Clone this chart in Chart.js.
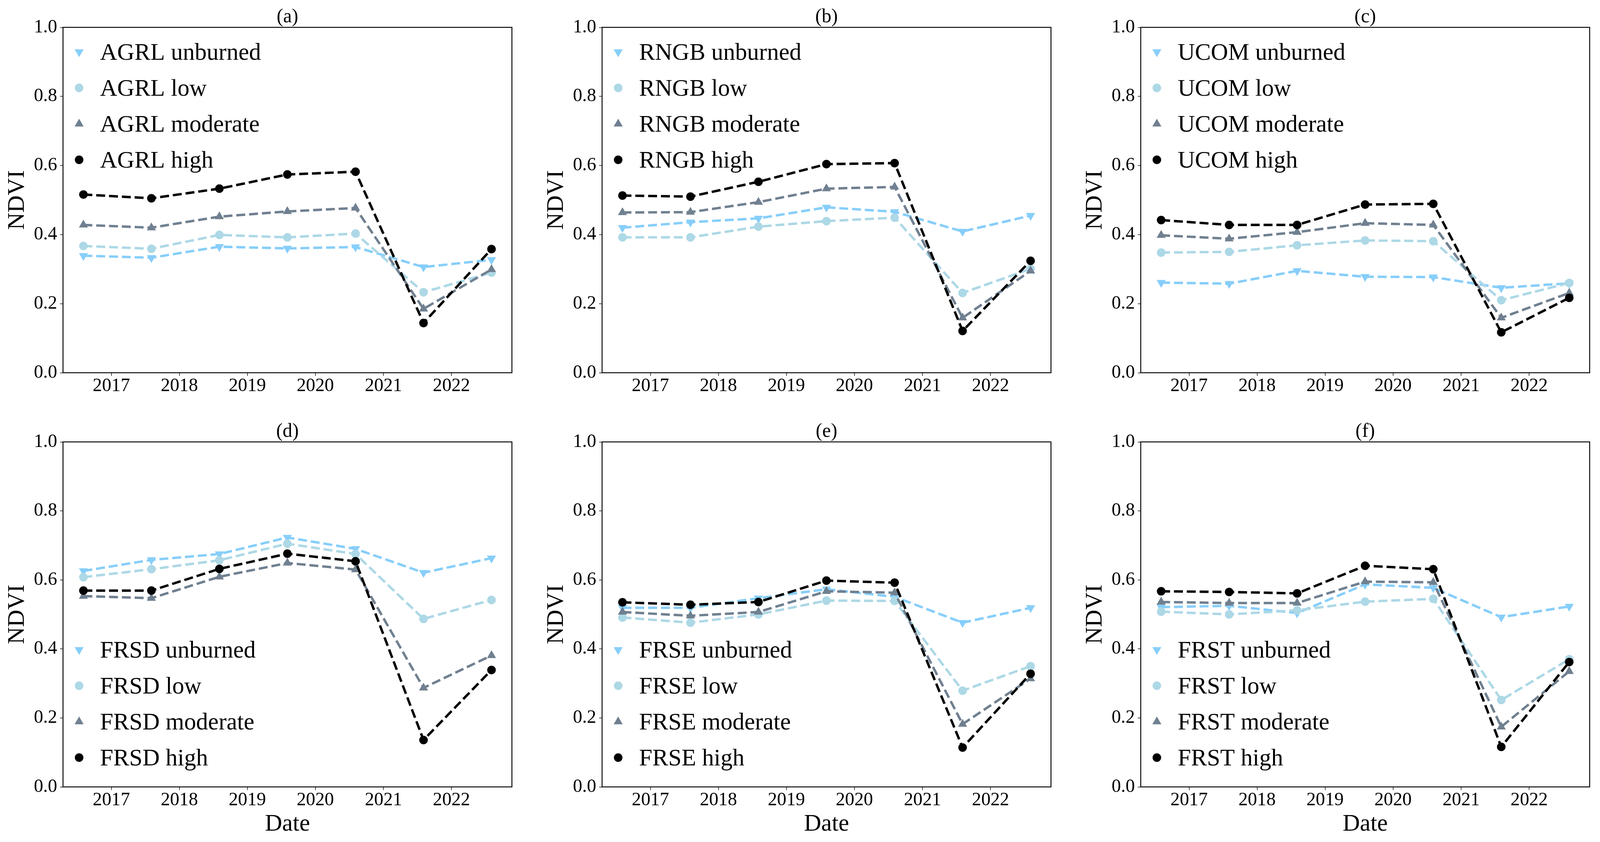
<!DOCTYPE html>
<html>
<head>
<meta charset="utf-8">
<script src="https://cdn.jsdelivr.net/npm/chart.js@4.4.1/dist/chart.umd.min.js"></script>
<style>
  html, body { margin: 0; padding: 0; background: #ffffff; overflow: hidden; }
  .panel { position: absolute; }
</style>
</head>
<body>
<div id="root"></div>
<script>
// ---------------- DATA ----------------
const dates = ['2016-08-04', '2017-08-04', '2018-08-04', '2019-08-04', '2020-08-04', '2021-08-04', '2022-08-04'];
const yearTicks = [2017, 2018, 2019, 2020, 2021, 2022];
const yTicks = [0.0, 0.2, 0.4, 0.6, 0.8, 1.0];
const panelLabels = ['(a)', '(b)', '(c)', '(d)', '(e)', '(f)'];
const landCovers = ['AGRL', 'RNGB', 'UCOM', 'FRSD', 'FRSE', 'FRST'];
const severities = ['unburned', 'low', 'moderate', 'high'];

const AGRL_unburned = [0.339, 0.333, 0.365, 0.360, 0.364, 0.306, 0.327];
const AGRL_low      = [0.367, 0.359, 0.399, 0.392, 0.403, 0.233, 0.290];
const AGRL_moderate = [0.428, 0.420, 0.452, 0.467, 0.477, 0.185, 0.299];
const AGRL_high     = [0.516, 0.505, 0.533, 0.574, 0.582, 0.144, 0.358];

const RNGB_unburned = [0.420, 0.436, 0.447, 0.479, 0.466, 0.409, 0.455];
const RNGB_low      = [0.392, 0.392, 0.423, 0.439, 0.449, 0.231, 0.301];
const RNGB_moderate = [0.464, 0.465, 0.494, 0.533, 0.538, 0.159, 0.295];
const RNGB_high     = [0.513, 0.510, 0.553, 0.604, 0.607, 0.121, 0.324];

const UCOM_unburned = [0.261, 0.258, 0.295, 0.278, 0.277, 0.246, 0.259];
const UCOM_low      = [0.348, 0.350, 0.369, 0.383, 0.381, 0.210, 0.260];
const UCOM_moderate = [0.398, 0.388, 0.407, 0.433, 0.428, 0.159, 0.231];
const UCOM_high     = [0.442, 0.428, 0.428, 0.487, 0.489, 0.117, 0.217];

const FRSD_unburned = [0.626, 0.658, 0.675, 0.723, 0.690, 0.621, 0.663];
const FRSD_low      = [0.608, 0.631, 0.657, 0.705, 0.675, 0.487, 0.542];
const FRSD_moderate = [0.553, 0.547, 0.609, 0.649, 0.630, 0.287, 0.381];
const FRSD_high     = [0.569, 0.569, 0.632, 0.676, 0.654, 0.136, 0.339];

const FRSE_unburned = [0.519, 0.519, 0.547, 0.573, 0.551, 0.476, 0.519];
const FRSE_low      = [0.491, 0.476, 0.500, 0.540, 0.539, 0.279, 0.350];
const FRSE_moderate = [0.507, 0.496, 0.507, 0.567, 0.563, 0.182, 0.314];
const FRSE_high     = [0.535, 0.528, 0.536, 0.598, 0.592, 0.114, 0.328];

const FRST_unburned = [0.521, 0.525, 0.504, 0.587, 0.577, 0.492, 0.523];
const FRST_low      = [0.508, 0.500, 0.512, 0.537, 0.545, 0.252, 0.370];
const FRST_moderate = [0.536, 0.533, 0.533, 0.595, 0.593, 0.174, 0.335];
const FRST_high     = [0.567, 0.565, 0.561, 0.641, 0.631, 0.116, 0.362];

const seriesByPanel = [
  [AGRL_unburned, AGRL_low, AGRL_moderate, AGRL_high],
  [RNGB_unburned, RNGB_low, RNGB_moderate, RNGB_high],
  [UCOM_unburned, UCOM_low, UCOM_moderate, UCOM_high],
  [FRSD_unburned, FRSD_low, FRSD_moderate, FRSD_high],
  [FRSE_unburned, FRSE_low, FRSE_moderate, FRSE_high],
  [FRST_unburned, FRST_low, FRST_moderate, FRST_high]
];

// ---------------- LAYOUT / STYLE (reference pixels, fitted to the viewport) ----------------
const REF_W = 4368, REF_H = 2155;
const VW = window.innerWidth || REF_W, VH = window.innerHeight || REF_H;
const SX = VW / REF_W;            // horizontal fit
const SY = VH / REF_H;            // vertical fit
const SF = Math.min(1, (SX + SY) / 2) * 0.985; // fonts / strokes / markers
const PX = (v) => v * SX;
const PY = (v) => v * SY;
const PF = (v) => v * SF;

const FONT = '"Liberation Serif", "Times New Roman", serif';
const severityStyle = [
  { color: '#87CEFA', pointStyle: 'triangle', rotation: 180, radius: 14 },
  { color: '#ADD8E6', pointStyle: 'circle',   rotation: 0,   radius: 11.5 },
  { color: '#708090', pointStyle: 'triangle', rotation: 0,   radius: 14 },
  { color: '#000000', pointStyle: 'circle',   rotation: 0,   radius: 11.5 }
];

const AX_LEFTS = [172, 1644, 3114];
const AX_W = 1226;
const ROWS = [
  { top: 70,   h: 884, xh: 100, legend: 'top' },
  { top: 1131, h: 883, xh: 140, legend: 'bottom' }
];
const Y_AXIS_W = 172;
const PAD_TOP = 70;
const PAD_RIGHT = 24;
const TICK_FONT = 50, LEGEND_FONT = 64, LABEL_FONT = 64, TITLE_FONT = 52;

document.body.style.width = VW + 'px';
document.body.style.height = VH + 'px';

function dayNum(s) {
  const [y, m, d] = s.split('-').map(Number);
  return Date.UTC(y, m - 1, d) / 86400000;
}

const xs = dates.map(dayNum);
const xRange = xs[xs.length - 1] - xs[0];
const X_MIN = xs[0] - 0.05 * xRange;
const X_MAX = xs[xs.length - 1] + 0.05 * xRange;

const decorPlugin = {
  id: 'panelDecor',
  afterDatasetsDraw(chart) {
    const { ctx, chartArea: a } = chart;
    ctx.save();
    ctx.strokeStyle = '#000';
    ctx.lineWidth = PF(2.5);
    ctx.strokeRect(a.left, a.top, a.right - a.left, a.bottom - a.top);
    ctx.restore();
  },
  afterDraw(chart, args, opts) {
    const { ctx, chartArea: a } = chart;
    ctx.save();
    ctx.fillStyle = '#000';
    ctx.font = PF(TITLE_FONT) + 'px ' + FONT;
    ctx.textAlign = 'center';
    ctx.textBaseline = 'alphabetic';
    ctx.fillText(opts.title, (a.left + a.right) / 2, a.top - PY(13));
    const rowGap = PY(92);
    const firstY = opts.legend === 'top' ? a.top + PY(63) : a.bottom - PY(75) - 3 * rowGap;
    const items = chart.data.datasets.slice().sort((p, q) => p.sevIndex - q.sevIndex);
    items.forEach((ds, i) => {
      const y = firstY + i * rowGap;
      const x = a.left + PX(44);
      ctx.fillStyle = ds.pointBackgroundColor;
      ctx.strokeStyle = ds.pointBackgroundColor;
      Chart.helpers.drawPoint(ctx, {
        pointStyle: ds.pointStyle, rotation: ds.pointRotation,
        radius: ds.pointRadius, borderWidth: 0
      }, x, y);
      ctx.fillStyle = '#000';
      ctx.font = PF(LEGEND_FONT) + 'px ' + FONT;
      ctx.textAlign = 'left';
      ctx.textBaseline = 'alphabetic';
      ctx.fillText(ds.label, a.left + PX(101), y + PF(21));
    });
    ctx.restore();
  }
};

function makePanel(idx) {
  const row = ROWS[Math.floor(idx / 3)];
  const col = idx % 3;
  const left = PX(AX_LEFTS[col] - Y_AXIS_W);
  const top = PY(row.top - PAD_TOP);
  const W = PX(Y_AXIS_W + AX_W + PAD_RIGHT);
  const H = PY(PAD_TOP + row.h + row.xh);

  const canvas = document.createElement('canvas');
  canvas.className = 'panel';
  canvas.width = Math.round(W); canvas.height = Math.round(H);
  canvas.style.left = left + 'px';
  canvas.style.top = top + 'px';
  canvas.style.width = Math.round(W) + 'px';
  canvas.style.height = Math.round(H) + 'px';
  document.getElementById('root').appendChild(canvas);

  const isBottom = idx >= 3;
  const datasets = seriesByPanel[idx].map((vals, s) => {
    const st = severityStyle[s];
    return {
      label: landCovers[idx] + ' ' + severities[s],
      sevIndex: s,
      order: 3 - s,
      data: xs.map((x, i) => ({ x: x, y: vals[i] })),
      borderColor: st.color,
      backgroundColor: st.color,
      borderWidth: PF(6.5),
      borderDash: [PF(24), PF(10.4)],
      tension: 0,
      fill: false,
      pointStyle: st.pointStyle,
      pointRotation: st.rotation,
      pointRadius: PF(st.radius),
      pointBorderWidth: 0,
      pointBackgroundColor: st.color,
      pointBorderColor: st.color,
      pointHoverRadius: PF(st.radius)
    };
  });

  new Chart(canvas, {
    type: 'line',
    data: { datasets },
    options: {
      responsive: false,
      animation: false,
      events: [],
      layout: { padding: { top: PY(PAD_TOP), right: PX(PAD_RIGHT), left: 0, bottom: 0 } },
      plugins: {
        legend: { display: false },
        tooltip: { enabled: false },
        panelDecor: { title: panelLabels[idx], legend: row.legend }
      },
      scales: {
        x: {
          type: 'linear',
          min: X_MIN, max: X_MAX,
          afterBuildTicks: (s) => { s.ticks = yearTicks.map(y => ({ value: dayNum(y + '-01-01') })); },
          afterFit: (s) => { s.height = PY(row.xh); },
          ticks: {
            autoSkip: false, maxRotation: 0, minRotation: 0,
            callback: (v, i) => String(yearTicks[i]),
            color: '#000', padding: PY(34) - PY(8) - PF(TICK_FONT) / 2,
            font: { family: FONT, size: PF(TICK_FONT), lineHeight: 1 }
          },
          grid: { drawOnChartArea: false, drawTicks: true, tickLength: PY(8), tickWidth: PF(1.5), tickColor: '#000' },
          border: { display: false },
          title: {
            display: isBottom, text: 'Date', color: '#000',
            font: { family: FONT, size: PF(LABEL_FONT), lineHeight: 1 },
            padding: { top: 0, bottom: PY(140 - 96) - PF(LABEL_FONT) / 2 }
          }
        },
        y: {
          type: 'linear',
          min: 0, max: 1,
          afterBuildTicks: (s) => { s.ticks = yTicks.map(v => ({ value: v })); },
          afterFit: (s) => { s.width = PX(Y_AXIS_W); },
          ticks: {
            callback: (v) => Number(v).toFixed(1),
            color: '#000', padding: PX(16) - PX(8),
            font: { family: FONT, size: PF(TICK_FONT), lineHeight: 1 }
          },
          grid: { drawOnChartArea: false, drawTicks: true, tickLength: PX(8), tickWidth: PF(1.5), tickColor: '#000' },
          border: { display: false },
          title: {
            display: true, text: 'NDVI', color: '#000',
            font: { family: FONT, size: PF(LABEL_FONT), lineHeight: 1 },
            padding: { top: PX(48) - PF(LABEL_FONT) / 2, bottom: 0 }
          }
        }
      }
    },
    plugins: [decorPlugin]
  });
}

function build() {
  for (let i = 0; i < 6; i++) makePanel(i);
}
if (document.fonts && document.fonts.load) {
  Promise.all([
    document.fonts.load(PF(52) + 'px "Liberation Serif"'),
    document.fonts.load(PF(64) + 'px "Liberation Serif"')
  ]).then(build, build);
} else {
  build();
}
</script>
</body>
</html>
